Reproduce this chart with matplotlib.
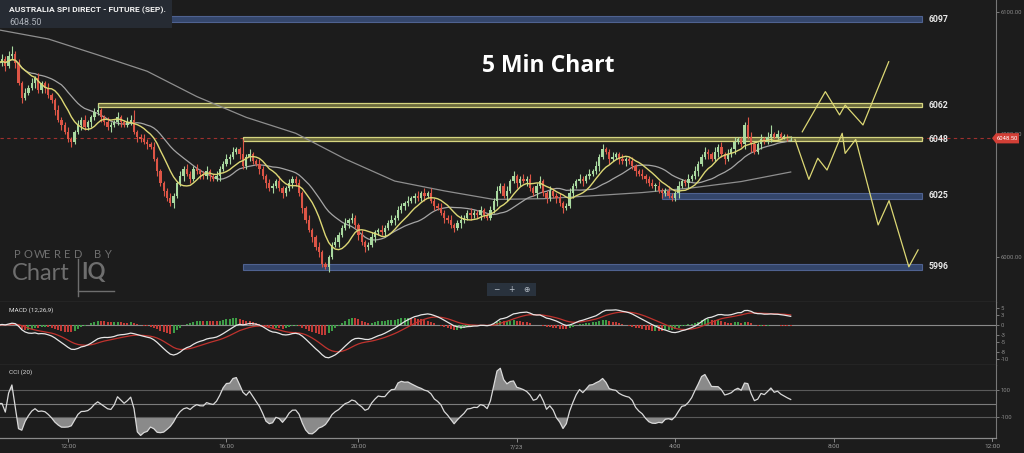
import numpy as np
import pandas as pd
import matplotlib
matplotlib.use("Agg")
import matplotlib.pyplot as plt
from matplotlib.patches import Rectangle, Polygon
from matplotlib.transforms import Bbox

# ---------------- data ----------------
closes = [
    6079, 6081, 6078, 6082, 6083, 6079, 6071, 6065, 6067, 6069,
    6071, 6073, 6068, 6071, 6069, 6066, 6064, 6060, 6056, 6054,
    6051, 6048, 6047, 6051, 6054, 6056, 6053, 6055, 6057, 6059,
    6060, 6057, 6055, 6053, 6054, 6055, 6057, 6055, 6054, 6055,
    6056, 6051, 6049, 6048, 6047, 6046, 6045, 6040, 6035, 6030,
    6027, 6024, 6022, 6025, 6030, 6033, 6036, 6034, 6032, 6036,
    6035, 6034, 6033, 6035, 6033, 6032, 6033, 6036, 6038, 6040,
    6041, 6043, 6044, 6042, 6037, 6041, 6042, 6039, 6038, 6036,
    6033, 6030, 6028, 6029, 6031, 6028, 6026, 6028, 6030, 6032,
    6030, 6026, 6020, 6015, 6011, 6008, 6004, 6002, 5997, 5996,
    6000, 6005, 6006, 6009, 6012, 6014, 6015, 6016, 6013, 6009,
    6006, 6004, 6005, 6008, 6010, 6011, 6010, 6012, 6014, 6015,
    6016, 6019, 6021, 6022, 6023, 6024, 6025, 6024, 6026, 6025,
    6026, 6023, 6021, 6020, 6018, 6016, 6015, 6013, 6012, 6014,
    6015, 6016, 6018, 6017, 6018, 6017, 6019, 6017, 6016, 6019,
    6023, 6027, 6029, 6025, 6027, 6031, 6033, 6030, 6032, 6031,
    6032, 6028, 6026, 6029, 6031, 6026, 6024, 6027, 6025, 6024,
    6022, 6020, 6021, 6026, 6029, 6031, 6032, 6031, 6033, 6034,
    6035, 6037, 6041, 6044, 6043, 6040, 6041, 6042, 6040, 6039,
    6040, 6039, 6037, 6035, 6034, 6033, 6032, 6030, 6029, 6029,
    6027, 6026, 6027, 6025, 6024, 6026, 6029, 6031, 6030, 6032,
    6033, 6035, 6038, 6041, 6043, 6042, 6040, 6043, 6045, 6042,
    6040, 6042, 6044, 6047, 6048, 6046, 6054, 6049, 6046, 6043,
    6046, 6048, 6047, 6049, 6050, 6049, 6050, 6049, 6049, 6048.5, 6048.5,
]
first_open = 6080
upper_wick = [
    1, 2, 1, 2, 3, 1, 2, 1, 2, 1,
    2, 1, 2, 1, 1, 2, 1, 1, 2, 1,
    1, 2, 1, 1, 2, 1, 2, 1, 1, 2,
    2, 1, 1, 2, 1, 1, 2, 1, 1, 2,
    2, 4, 1, 1, 2, 1, 1, 2, 1, 1,
    1, 1, 2, 1, 1, 2, 1, 2, 1, 1,
    2, 1, 1, 2, 1, 1, 2, 1, 1, 2,
    1, 2, 1, 1, 6, 1, 2, 1, 1, 2,
    1, 1, 2, 1, 1, 2, 1, 1, 2, 1,
    1, 2, 1, 1, 2, 1, 1, 2, 1, 1,
    1, 1, 2, 1, 1, 2, 1, 2, 1, 1,
    2, 1, 1, 2, 1, 1, 2, 1, 1, 2,
    1, 2, 1, 1, 2, 1, 1, 2, 1, 2,
    1, 2, 1, 1, 2, 1, 1, 2, 1, 1,
    2, 1, 1, 2, 1, 1, 2, 1, 1, 2,
    1, 2, 1, 1, 2, 1, 2, 1, 1, 2,
    1, 2, 1, 1, 2, 1, 1, 2, 1, 1,
    2, 1, 1, 2, 1, 1, 2, 1, 1, 2,
    1, 2, 1, 2, 1, 1, 2, 1, 1, 2,
    1, 1, 2, 1, 1, 2, 1, 1, 2, 1,
    2, 1, 1, 2, 1, 1, 2, 1, 1, 2,
    1, 2, 1, 1, 2, 1, 1, 2, 1, 2,
    1, 2, 1, 2, 1, 1, 1, 3, 2, 1,
    1, 2, 1, 2, 4, 1, 2, 1, 1, 1, 1,
]
lower_wick = [
    2, 1, 2, 1, 1, 2, 1, 2, 1, 1,
    1, 2, 1, 1, 2, 1, 1, 2, 1, 2,
    1, 1, 2, 1, 1, 2, 1, 1, 2, 1,
    1, 2, 1, 1, 2, 1, 1, 2, 1, 1,
    1, 1, 2, 1, 1, 2, 1, 1, 2, 1,
    2, 1, 1, 2, 1, 1, 2, 1, 2, 1,
    1, 2, 1, 1, 2, 1, 1, 2, 1, 1,
    2, 1, 1, 2, 1, 1, 2, 1, 1, 2,
    1, 2, 1, 2, 1, 1, 2, 1, 1, 2,
    1, 1, 2, 1, 1, 2, 1, 2, 1, 1,
    2, 1, 1, 2, 1, 1, 2, 1, 1, 2,
    1, 2, 1, 1, 2, 1, 1, 2, 1, 1,
    2, 1, 1, 2, 1, 1, 2, 1, 1, 2,
    1, 1, 2, 1, 1, 2, 1, 1, 2, 1,
    2, 1, 1, 2, 1, 1, 2, 1, 1, 1,
    1, 2, 1, 1, 2, 1, 1, 2, 1, 1,
    2, 1, 1, 2, 1, 1, 2, 1, 1, 2,
    1, 2, 1, 1, 2, 1, 1, 2, 1, 1,
    1, 1, 2, 1, 1, 2, 1, 1, 2, 1,
    2, 1, 1, 2, 1, 1, 2, 1, 1, 2,
    1, 2, 1, 1, 1, 1, 2, 1, 1, 2,
    1, 1, 2, 1, 1, 2, 1, 1, 2, 1,
    2, 1, 1, 2, 1, 1, 2, 1, 3, 1,
    1, 2, 1, 1, 2, 1, 1, 1, 1, 1, 1,
]
long_ma_idx = [0, 15, 30, 45, 60, 75, 90, 105, 120, 135, 150, 165, 180, 195, 210, 225, 240]
long_ma_val = [6092.7, 6089, 6082.5, 6075.8, 6065.5, 6057, 6050.5, 6040, 6031, 6027,
               6023.5, 6023.8, 6025, 6026.3, 6028.2, 6030.8, 6034.7]

level_values = [6097, 6062, 6048, 6025, 5996]
level_start = [0, 30, 74, 201, 74]
level_kind = ["blue", "yellow", "yellow", "blue", "blue"]

proj_up_idx = [243.5, 250.5, 254.8, 256.5, 261.9, 269.7]
proj_up_val = [6051.1, 6067.5, 6058.0, 6062.0, 6053.9, 6079.7]
proj_dn_idx = [241.3, 245.5, 248.2, 251.0, 255.6, 256.5, 259.7, 266.5, 269.8, 275.8, 278.6]
proj_dn_val = [6048.0, 6031.7, 6040.3, 6035.5, 6050.5, 6042.3, 6048.0, 6013.1, 6023.0, 5996.0, 6002.9]

time_tick_idx = [21, 69, 109, 157, 205, 253, 301]
time_tick_labels = ["12:00", "16:00", "20:00", "7/23", "4:00", "8:00", "12:00"]
price_ticks = [6000, 6050, 6100]
macd_ticks = [5, 3, 0, -3, -5, -8, -10]
cci_ticks = [100, -100]
last_price = 6048.50
instrument = "AUSTRALIA SPI DIRECT - FUTURE (SEP)."
chart_title = "5 Min Chart"

# ---------------- derived ----------------
c = np.array(closes, dtype=float)
o = np.r_[first_open, c[:-1]]
h = np.maximum(o, c) + np.array(upper_wick)
l = np.minimum(o, c) - np.array(lower_wick)
idx = np.arange(len(c))
s = pd.Series(c)
ma_fast = s.rolling(9, min_periods=1).mean()
ma_mid = s.rolling(20, min_periods=1).mean()
ema12 = s.ewm(span=12, adjust=False).mean()
ema26 = s.ewm(span=26, adjust=False).mean()
macd = ema12 - ema26
sig = macd.ewm(span=9, adjust=False).mean()
hist = macd - sig
tp = pd.Series((h + l + c) / 3)
tp_sma = tp.rolling(20, min_periods=3).mean()
tp_md = tp.rolling(20, min_periods=3).apply(lambda x: np.mean(np.abs(x - x.mean())), raw=True)
cci = ((tp - tp_sma) / (0.015 * tp_md)).fillna(0).values

# ---------------- layout ----------------
W, H, DPI = 1024, 453, 100
BG = "#1c1c1c"
GREEN = "#a9d9a0"
RED = "#dd5546"
SP, X0 = 3.3, 0.39
XR = X0 + 996 / SP


def px2i(px):
    return px / SP + X0


def py2p(py):
    return 6000 + (257 - py) / 2.45


def rect(x0, y0, x1, y1):
    return [x0 / W, 1 - y1 / H, (x1 - x0) / W, (y1 - y0) / H]


plt.rcParams["font.family"] = ["Roboto", "DejaVu Sans"]
fig = plt.figure(figsize=(W / DPI, H / DPI), dpi=DPI, facecolor=BG)

ax = fig.add_axes(rect(0, 0, 996, 302))
axm = fig.add_axes(rect(0, 302, 996, 365))
axc = fig.add_axes(rect(0, 365, 996, 438))
SPINE = "#5c5c5c"
for a in (ax, axm, axc):
    a.set_facecolor(BG)
    a.set_xlim(X0, XR)
    for sname in ("top", "left"):
        a.spines[sname].set_visible(False)
    a.spines["right"].set_color("#777777")
    a.spines["bottom"].set_color(SPINE)
    a.spines["right"].set_linewidth(0.8)
    a.spines["bottom"].set_linewidth(0.9)
    a.yaxis.tick_right()
    a.tick_params(axis="y", colors="#8a8a8a", labelsize=4.2, length=2, width=0.6, pad=1.5)
    a.tick_params(axis="x", bottom=False, labelbottom=False)

# ---- main price panel ----
ax.set_ylim(py2p(302), py2p(0))
ax.set_yticks(price_ticks)
ax.set_yticklabels([f"{v:.2f}" for v in price_ticks])

for val, st, kind in zip(level_values, level_start, level_kind):
    x_end = px2i(922)
    if kind == "blue":
        hh = 6 / 2.45
        ax.add_patch(Rectangle((st, val - hh / 2), x_end - st, hh, facecolor="#34466b",
                               edgecolor="#4f6290", lw=0.8, zorder=2))
    else:
        hh = 4 / 2.45
        ax.add_patch(Rectangle((st, val - hh / 2), x_end - st, hh, facecolor="#6a693c",
                               edgecolor="#d6d580", lw=0.9, zorder=2))
    ax.text(px2i(929), val, str(val), color="#e8e8e8", fontsize=6.3, fontweight="bold",
            va="center", ha="left", zorder=5)

ax.axhline(last_price, color="#a0302e", lw=0.8, ls=(0, (3, 3)), zorder=1)

ax.plot(long_ma_idx, long_ma_val, color="#8e8e8e", lw=0.9, zorder=3)
ax.plot(idx, ma_mid, color="#a5a5a5", lw=0.9, zorder=3)
ax.plot(idx, ma_fast, color="#dcd774", lw=1.0, zorder=4)

colors = np.where(c >= o, GREEN, RED)
ax.vlines(idx, l, h, colors=colors, lw=0.8, zorder=3)
ax.bar(idx, np.maximum(np.abs(c - o), 0.4), bottom=np.minimum(o, c), width=0.7,
       color=colors, lw=0, zorder=3)

ax.plot(proj_up_idx, proj_up_val, color="#dcd774", lw=0.9, zorder=4)
ax.plot(proj_dn_idx, proj_dn_val, color="#dcd774", lw=0.9, zorder=4)

# ---- MACD panel ----
axm.set_ylim(-(365 - 325) / 3.4, (325 - 302) / 3.4)
axm.set_yticks(macd_ticks)
axm.set_yticklabels([str(v) for v in macd_ticks])
axm.axhline(0, color="#8a8a8a", lw=0.8, zorder=1)
hcol = np.where(hist.diff().fillna(0).values >= 0, "#3d9c46", "#c23b36")
axm.bar(idx, hist.values, width=0.6, color=hcol, lw=0, zorder=2)
axm.plot(idx, sig.values, color="#c0332e", lw=0.9, zorder=3)
axm.plot(idx, macd.values, color="#e6e6e6", lw=0.9, zorder=4)

# ---- CCI panel ----
axc.set_ylim(-(438 - 403.5) / 0.135, (403.5 - 365) / 0.135)
axc.set_yticks(cci_ticks)
axc.set_yticklabels([str(v) for v in cci_ticks])
axc.axhline(100, color="#5a5a5a", lw=0.8)
axc.axhline(0, color="#7c7c7c", lw=0.8)
axc.axhline(-100, color="#5a5a5a", lw=0.8)
axc.fill_between(idx, cci, 100, where=cci > 100, interpolate=True, color="#8a8a8a", lw=0)
axc.fill_between(idx, cci, -100, where=cci < -100, interpolate=True, color="#8a8a8a", lw=0)
axc.plot(idx, cci, color="#d9d9d9", lw=0.9)
axc.spines["bottom"].set_color("#8a8a8a")
axc.set_xticks(time_tick_idx[:-1])
axc.set_xticklabels(time_tick_labels[:-1])
axc.tick_params(axis="x", bottom=True, labelbottom=True, colors="#9a9a9a", labelsize=4.6,
                length=3, width=0.6, pad=1.5)

# ---- overlay (pixel coordinates) ----
ov = fig.add_axes([0, 0, 1, 1], zorder=10)
ov.set_xlim(0, W)
ov.set_ylim(H, 0)
ov.axis("off")
ov.patch.set_visible(False)

ov.add_patch(Rectangle((0, 0), 172, 28, facecolor="#262b33", edgecolor="none"))
ov.text(9, 10.5, instrument, color="#f2f2f2", fontsize=6.1, fontweight="bold", va="center",
        ha="left")
ov.text(9, 22.5, f"{last_price:.2f}", color="#aeb3ba", fontsize=6.4, va="center", ha="left")

ov.text(548, 66, chart_title, color="white", fontsize=16.5, fontweight="bold",
        family=["Open Sans", "DejaVu Sans"], ha="center", va="center")

# price flag on the right axis
ov.add_patch(Polygon([(992, 138.2), (996, 133.2), (1019, 133.2), (1019, 143.4), (996, 143.4)],
                     closed=True, facecolor="#d23f36", edgecolor="none"))
ov.text(1007.5, 138.4, f"{last_price:.2f}", color="white", fontsize=4.2, ha="center", va="center")

# panel labels
ov.text(9, 310, "MACD (12,26,9)", color="#dedede", fontsize=4.6, va="center", ha="left")
ov.text(9, 372.5, "CCI (20)", color="#dedede", fontsize=4.6, va="center", ha="left")

# clipped last time label
t = ov.text(992, 446, time_tick_labels[-1], color="#9a9a9a", fontsize=4.6, ha="center",
            va="center")
t.set_clip_box(Bbox.from_extents(0, 0, 1000, H))
t.set_clip_on(True)
ov.plot([992, 992], [438, 441], color="#9a9a9a", lw=0.6)

# zoom buttons
ov.add_patch(Rectangle((487, 283), 49, 13, facecolor="#29323d", edgecolor="none"))
for xx, ch in zip((496, 511, 526), ("\u2212", "+", "\u2295")):
    ov.text(xx, 289.5, ch, color="#b9c1ca", fontsize=5.5, ha="center", va="center",
            family=["DejaVu Sans"])

# watermark
wm = "#6e6e6e"
for k, ch in enumerate("POWERED BY"):
    ov.text(14 + k * 10.0, 254, ch, color=wm, fontsize=8.0, ha="left", va="center",
            family=["Lato", "DejaVu Sans"])
ov.text(12, 274, "Chart", color=wm, fontsize=17, ha="left", va="center",
        family=["Lato", "DejaVu Sans"])
ov.plot([77.5, 77.5], [259, 296], color=wm, lw=1.0)
ov.plot([77.5, 114], [291, 291], color=wm, lw=1.0)
ov.text(81, 273, "IQ", color=wm, fontsize=16, ha="left", va="center", fontweight="bold",
        family=["Lato", "DejaVu Sans"])

fig.savefig("out.png", dpi=DPI, facecolor=BG)
